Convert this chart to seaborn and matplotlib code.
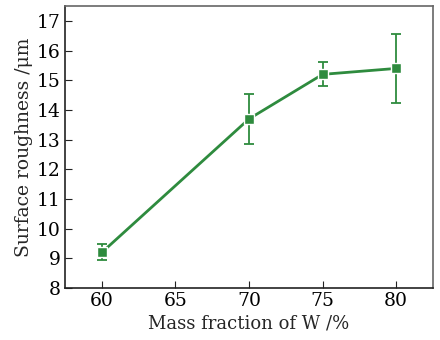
import numpy as np
import pandas as pd
import seaborn as sns
import matplotlib.pyplot as plt

mass_fraction = [60, 70, 75, 80]
roughness = [9.2, 13.7, 15.2, 15.4]
roughness_err = [0.27, 0.85, 0.4, 1.15]

x_ticks = [60, 65, 70, 75, 80]
y_ticks = [8, 9, 10, 11, 12, 13, 14, 15, 16, 17]

green = "#2e8b3e"

sns.set_style("ticks")
plt.rcParams['font.family'] = ['DejaVu Serif']

df = pd.DataFrame({"x": mass_fraction, "y": roughness, "err": roughness_err})

fig = plt.figure(figsize=(4.4, 3.4), dpi=100)
ax = fig.add_axes([0.148, 0.153, 0.836, 0.829])

# error bars underneath, markers with a thin white rim on top
ax.errorbar(df["x"], df["y"], yerr=df["err"], fmt="none", ecolor=green,
            elinewidth=1.3, capsize=3.5, capthick=1.3, zorder=2)
sns.lineplot(data=df, x="x", y="y", ax=ax, color=green, linewidth=2,
             marker="s", markersize=7.5, markeredgewidth=1,
             markeredgecolor="white", zorder=3)

ax.set_xlim(57.5, 82.5)
ax.set_ylim(8, 17.5)
ax.set_xticks(x_ticks)
ax.set_yticks(y_ticks)
ax.tick_params(direction="in", length=5, labelsize=13.5, colors="#222222",
               labelcolor="black", top=False, right=False, pad=3)
ax.set_xlabel("Mass fraction of W /%", fontsize=13, labelpad=3)
ax.set_ylabel("Surface roughness /\u03bcm", fontsize=13.5, labelpad=3)

for side in ["left", "bottom"]:
    ax.spines[side].set_color("#222222")
    ax.spines[side].set_linewidth(1.2)
for side in ["top", "right"]:
    ax.spines[side].set_color("#666666")
    ax.spines[side].set_linewidth(1.2)

fig.savefig("out.png", dpi=100)
